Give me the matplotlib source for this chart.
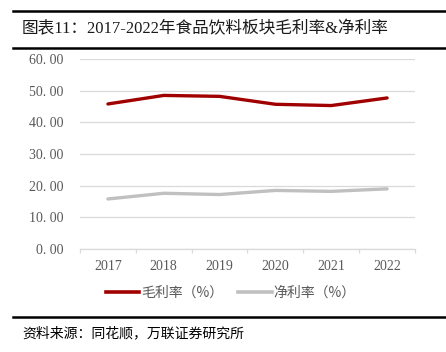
import matplotlib

matplotlib.use("Agg")
import matplotlib.pyplot as plt
from matplotlib.lines import Line2D
from matplotlib.ticker import FuncFormatter

plt.rcParams["font.family"] = ["Liberation Serif", "Noto Sans CJK SC", "DejaVu Sans"]

years = ["2017", "2018", "2019", "2020", "2021", "2022"]
gross_margin = [45.8, 48.5, 48.2, 45.7, 45.3, 47.7]
net_margin = [15.8, 17.6, 17.2, 18.5, 18.2, 19.0]
y_ticks = [0, 10, 20, 30, 40, 50, 60]

title = "图表11：2017-2022年食品饮料板块毛利率&净利率"
source = "资料来源：同花顺，万联证券研究所"
labels = ["毛利率（%）", "净利率（%）"]

RED = "#a00000"
GRAY = "#c0c0c0"
TEXT = "#595959"
GRID = "#d9d9d9"

W, H = 446, 352
fig = plt.figure(figsize=(W / 100, H / 100), dpi=100)
ax = fig.add_axes([80 / W, (H - 249) / H, 335 / W, 190 / H])

x = range(len(years))
ax.plot(x, gross_margin, color=RED, linewidth=2.4, solid_capstyle="round")
ax.plot(x, net_margin, color=GRAY, linewidth=2.4, solid_capstyle="round")

ax.set_xlim(-0.5, len(years) - 0.5)
ax.set_ylim(0, 60)
ax.set_yticks(y_ticks)
ax.yaxis.set_major_formatter(FuncFormatter(lambda v, _: f"{v:.2f}".replace(".", ". ")))
ax.set_xticks(list(x))
ax.set_xticklabels(years)
ax.set_xticks([i + 0.5 for i in range(-1, len(years))], minor=True)

ax.grid(axis="y", color=GRID, linewidth=0.9)
ax.set_axisbelow(True)
for side in ["top", "right", "left"]:
    ax.spines[side].set_visible(False)
ax.spines["bottom"].set_color(GRID)
ax.spines["bottom"].set_linewidth(0.9)

ax.tick_params(axis="y", length=0, pad=12, labelsize=10, labelcolor=TEXT)
ax.tick_params(axis="x", which="major", length=0, pad=8, labelsize=10, labelcolor=TEXT)
ax.tick_params(axis="x", which="minor", length=3, color=GRID, width=0.9)

handles = [Line2D([], [], color=RED, linewidth=2.6), Line2D([], [], color=GRAY, linewidth=2.6)]
fig.legend(
    handles,
    labels,
    loc="center left",
    bbox_to_anchor=(93 / W, (H - 293) / H),
    ncol=2,
    frameon=False,
    handlelength=2.4,
    handletextpad=0.15,
    columnspacing=1.1,
    prop={"family": ["Noto Sans CJK SC"], "size": 10, "weight": "light"},
    labelcolor=TEXT,
)

# header / footer rules
fig.add_artist(Line2D([13 / W, 1], [(H - 11) / H] * 2, color="black", linewidth=1.8))
fig.add_artist(Line2D([13 / W, 1], [(H - 48) / H] * 2, color="black", linewidth=1.8))
fig.add_artist(Line2D([13 / W, 1], [(H - 317) / H] * 2, color="black", linewidth=1.8))

fig.text(22 / W, (H - 29) / H, title, fontsize=12, va="center", ha="left", color="#1a1a1a",
         fontweight="light")
fig.text(22 / W, (H - 333) / H, source, fontsize=10, va="center", ha="left",
         color="black", style="italic", family=["Noto Sans CJK SC"], fontweight="light")

fig.savefig("out.png", dpi=100)
